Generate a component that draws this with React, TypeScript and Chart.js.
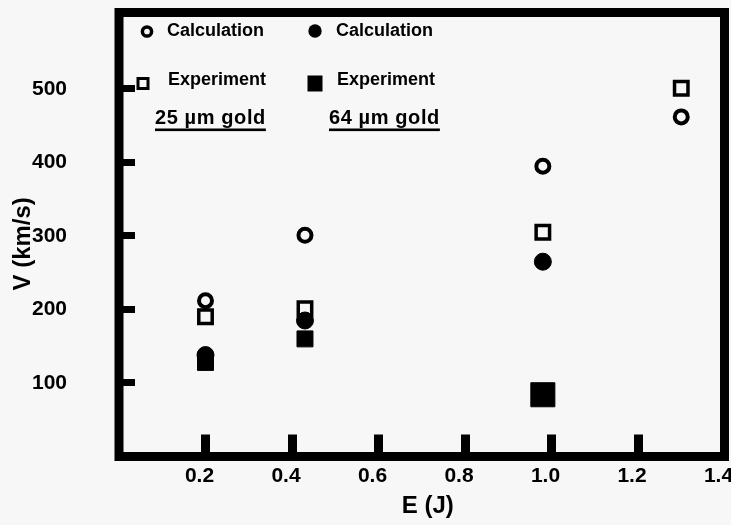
import React, { useEffect, useRef } from 'react';
import { Chart, registerables } from 'chart.js';

Chart.register(...registerables);

// ---- data ----
const energies25 = [0.2, 0.43, 0.98, 1.3];
const calc25 = [212, 301, 395, 462];
const exp25 = [190, 201, 305, 501];
const energies64 = [0.2, 0.43, 0.98];
const calc64 = [138, 185, 265];
const exp64 = [128, 160, 84];

const xTicks = [0.2, 0.4, 0.6, 0.8, 1.0, 1.2, 1.4];
const yTicks = [100, 200, 300, 400, 500];
const seriesLabels = ['Calculation', 'Experiment', 'Calculation', 'Experiment'];
const groupLabels = ['25 µm gold', '64 µm gold'];
const xTitle = 'E (J)';
const yTitle = 'V (km/s)';

const FONT = '"Liberation Sans", Arial, Helvetica, sans-serif';
const BG = '#f7f7f7';

const toXY = (xs: number[], ys: number[]) => xs.map((x, i) => ({ x, y: ys[i] }));

const bgPlugin = {
  id: 'bgFill',
  beforeDraw(chart: any) {
    const { ctx, width, height } = chart;
    ctx.save();
    ctx.fillStyle = BG;
    ctx.fillRect(0, 0, width, height);
    ctx.restore();
  },
};

const framePlugin = {
  id: 'frame',
  afterDraw(chart: any) {
    const { ctx, chartArea: a } = chart;
    ctx.save();
    ctx.strokeStyle = '#000';
    ctx.lineWidth = 9;
    ctx.lineJoin = 'miter';
    ctx.strokeRect(a.left, a.top, a.right - a.left, a.bottom - a.top);
    ctx.restore();
  },
};

const legendPlugin = {
  id: 'customLegend',
  afterDraw(chart: any) {
    const { ctx, chartArea: a } = chart;
    const L = a.left;
    const T = a.top;
    ctx.save();
    ctx.fillStyle = '#000';
    ctx.strokeStyle = '#000';
    ctx.textBaseline = 'middle';
    ctx.textAlign = 'left';
    ctx.font = `bold 18px ${FONT}`;

    // row 1 : calculations
    ctx.lineWidth = 3.5;
    ctx.beginPath();
    ctx.arc(L + 28, T + 19, 4.6, 0, Math.PI * 2);
    ctx.stroke();
    ctx.fillText(seriesLabels[0], L + 48, T + 18.5);

    ctx.beginPath();
    ctx.arc(L + 196, T + 18.5, 6.7, 0, Math.PI * 2);
    ctx.fill();
    ctx.fillText(seriesLabels[2], L + 217, T + 18.5);

    // row 2 : experiments
    ctx.lineWidth = 3;
    ctx.strokeRect(L + 24 - 5, T + 71 - 5, 10, 10);
    ctx.fillText(seriesLabels[1], L + 49, T + 68);
    ctx.fillRect(L + 196 - 7.5, T + 71 - 8, 15, 16);
    ctx.fillText(seriesLabels[3], L + 218, T + 68);

    // row 3 : underlined group labels
    ctx.font = `bold 20px ${FONT}`;
    (ctx as any).letterSpacing = '0.6px';
    const gx = [L + 36, L + 210];
    groupLabels.forEach((t, i) => {
      ctx.fillText(t, gx[i], T + 105.5);
      const w = ctx.measureText(t).width;
      ctx.fillRect(gx[i], T + 116, w, 2.6);
    });
    ctx.restore();
  },
};

export default function App() {
  const ref = useRef<HTMLCanvasElement | null>(null);

  useEffect(() => {
    if (!ref.current) return;
    const chart = new Chart(ref.current, {
      type: 'scatter',
      data: {
        datasets: [
          {
            label: seriesLabels[0] + ' ' + groupLabels[0],
            data: toXY(energies25, calc25),
            pointStyle: 'circle',
            pointRadius: 6.5,
            pointBorderWidth: 4,
            pointBorderColor: '#000',
            pointBackgroundColor: 'rgba(0,0,0,0)',
          },
          {
            label: seriesLabels[1] + ' ' + groupLabels[0],
            data: toXY(energies25, exp25),
            pointStyle: 'rect',
            pointRadius: 9.5,
            pointBorderWidth: 3.5,
            pointBorderColor: '#000',
            pointBackgroundColor: 'rgba(0,0,0,0)',
          },
          {
            label: seriesLabels[2] + ' ' + groupLabels[1],
            data: toXY(energies64, calc64),
            pointStyle: 'circle',
            pointRadius: 8.5,
            pointBorderWidth: 1,
            pointBorderColor: '#000',
            pointBackgroundColor: '#000',
          },
          {
            label: seriesLabels[3] + ' ' + groupLabels[1],
            data: toXY(energies64, exp64),
            pointStyle: 'rect',
            pointRadius: [11.3, 11.3, 17],
            pointBorderWidth: 1,
            pointBorderColor: '#000',
            pointBackgroundColor: '#000',
          },
        ],
      },
      options: {
        animation: false,
        responsive: true,
        maintainAspectRatio: false,
        layout: { autoPadding: false, padding: { top: 12.5, right: 6.5, left: 0, bottom: 0 } },
        plugins: {
          legend: { display: false },
          tooltip: { enabled: false },
        },
        events: [],
        scales: {
          x: {
            type: 'linear',
            min: 0,
            max: 1.4,
            afterBuildTicks: (scale: any) => {
              scale.ticks = xTicks.map((v) => ({ value: v }));
            },
            afterFit: (scale: any) => {
              scale.height = 68.5;
              scale.paddingLeft = 0;
              scale.paddingRight = 0;
            },
            border: { display: false },
            grid: {
              drawOnChartArea: false,
              drawTicks: true,
              tickLength: -22,
              tickWidth: 9,
              tickColor: '#000',
            },
            ticks: {
              autoSkip: false,
              maxRotation: 0,
              minRotation: 0,
              padding: 29,
              labelOffset: -6,
              color: '#000',
              font: { family: FONT, size: 21, weight: 'bold' },
              callback: (v: any) => Number(v).toFixed(1),
            },
            title: {
              display: true,
              text: '\u2002' + xTitle,
              color: '#000',
              font: { family: FONT, size: 24, weight: 'bold' },
              padding: { top: 0, bottom: 4 },
            },
          },
          y: {
            type: 'linear',
            min: 0,
            max: 604,
            afterBuildTicks: (scale: any) => {
              scale.ticks = yTicks.map((v) => ({ value: v }));
            },
            afterFit: (scale: any) => {
              scale.width = 119;
              scale.paddingTop = 0;
              scale.paddingBottom = 0;
            },
            border: { display: false },
            grid: {
              drawOnChartArea: false,
              drawTicks: true,
              tickLength: -16,
              tickWidth: 7,
              tickColor: '#000',
            },
            ticks: {
              padding: 68,
              color: '#000',
              font: { family: FONT, size: 21, weight: 'bold' },
              callback: (v: any) => String(v),
            },
            title: {
              display: true,
              text: yTitle + '\u2002 ',
              color: '#000',
              font: { family: FONT, size: 24, weight: 'bold' },
              padding: { top: 9, bottom: 0 },
            },
          },
        },
      } as any,
      plugins: [bgPlugin, framePlugin, legendPlugin],
    });
    return () => chart.destroy();
  }, []);

  return (
    <div style={{ position: 'fixed', left: 0, top: 0, width: 731, height: 525, background: BG }}>
      <canvas ref={ref} style={{ display: 'block' }} />
    </div>
  );
}
